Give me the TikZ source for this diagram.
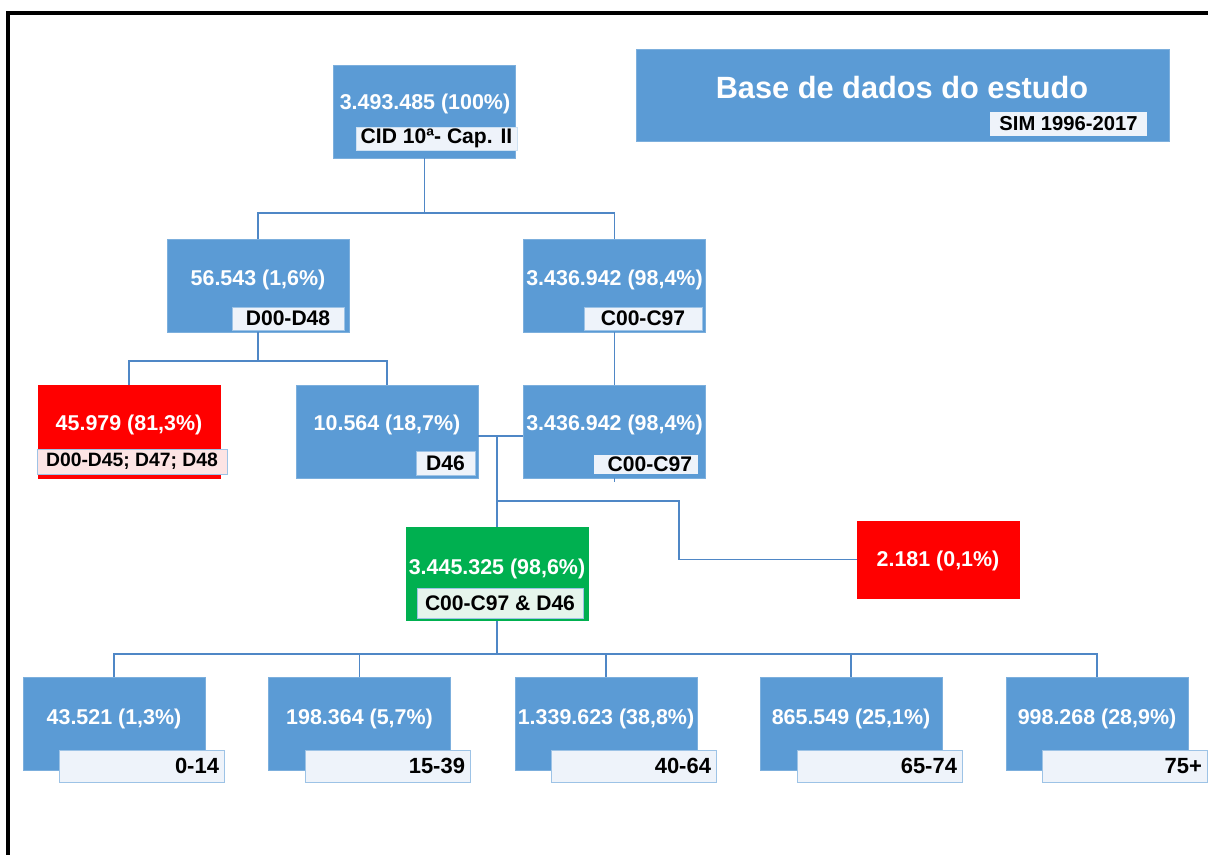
\documentclass[tikz,border=0pt]{standalone}
\usepackage{fontspec}
\setmainfont{Liberation Sans}
\definecolor{smBlue}{HTML}{5B9BD5}
\definecolor{smRed}{HTML}{FF0000}
\definecolor{smGreen}{HTML}{00B050}
\definecolor{smLine}{HTML}{4F87C6}
\definecolor{smTagLine}{HTML}{9DC3E6}
\definecolor{smTagBlue}{HTML}{EEF3FA}
\definecolor{smTagRed}{HTML}{FCE4E4}
\definecolor{smTagGreen}{HTML}{E6F5EC}
\usetikzlibrary{positioning}

\begin{document}
\begin{tikzpicture}[
  x=0.02cm,y=-0.02cm,
  bx/.style={fill=smBlue,draw=smBlue!80!white,line width=0.3pt,inner sep=0pt,
             minimum width=3.64cm,minimum height=1.86cm},
  num/.style={text=white,inner sep=0pt,font=\bfseries\fontsize{12.2}{14}\selectfont},
  tag/.style={fill=smTagBlue,draw=smTagLine,line width=0.5pt,inner sep=0pt,
              font=\bfseries\fontsize{11}{13}\selectfont},
  agetag/.style={tag,minimum height=0.64cm,inner xsep=0.1cm,text width=3.1cm,align=right,
                 font=\bfseries\fontsize{12.5}{14}\selectfont},
  conn/.style={draw=smLine,line width=0.6pt}
]
\useasboundingbox (0,0) rectangle (1208,855);
% frame
\draw[black,line width=2.2pt] (8,855) -- (8,13) -- (1208,13);
% title
\node[bx,minimum width=10.66cm,minimum height=1.84cm] (title) at (902.5,95) {};
\node[num,font=\bfseries\fontsize{17.5}{20}\selectfont] (titletxt) at (902,88) {Base de dados do estudo};
\node[tag,draw=none,minimum width=3.14cm,minimum height=0.48cm,font=\bfseries\fontsize{11.5}{13}\selectfont] (simtag) at (1068.5,124) {SIM 1996-2017};
% level 0
\node[bx] (top) at (424.5,111.5) {};
\node[num] (topnum) at (425,104) {3.493.485 (100\%)};
\node[tag,draw=smTagLine!50,minimum width=3.22cm,minimum height=0.46cm,font=\bfseries\fontsize{12}{14}\selectfont] (cidtag) at (436.5,138.5) {CID 10ª- Cap. II};
% level 1
\node[bx] (d48) at (258,285.5) {};
\node[num] (d48num) at (258,280) {56.543 (1,6\%)};
\node[tag,minimum width=2.24cm,minimum height=0.46cm,font=\bfseries\fontsize{12}{14}\selectfont] (d48tag) at (288,318.5) {D00-D48};
\node[bx] (c97) at (614.5,285.5) {};
\node[num] (c97num) at (614.5,280) {3.436.942 (98,4\%)};
\node[tag,minimum width=2.36cm,minimum height=0.46cm,font=\bfseries\fontsize{12}{14}\selectfont] (c97tag) at (643,318.5) {C00-C97};
% level 2
\node[bx,fill=smRed,draw=smRed] (red1) at (129,431.5) {};
\node[num] (red1num) at (129,425) {45.979 (81,3\%)};
\node[tag,fill=smTagRed,minimum width=3.8cm,minimum height=0.5cm] (red1tag) at (132,461.5) {D00-D45; D47; D48};
\node[bx] (d46) at (387,431.5) {};
\node[num] (d46num) at (387,425) {10.564 (18,7\%)};
\node[tag,minimum width=1.18cm,minimum height=0.48cm,font=\bfseries\fontsize{12}{14}\selectfont] (d46tag) at (445.5,463) {D46};
\node[bx] (c97b) at (614.5,431.5) {};
\node[num] (c97bnum) at (614.5,425) {3.436.942 (98,4\%)};
\node[tag,draw=none,minimum height=0.38cm,inner xsep=0.12cm,text width=1.84cm,align=right,font=\bfseries\fontsize{12}{14}\selectfont] (c97btag) at (646,464) {C00-C97};
% level 3
\node[bx,fill=smGreen,draw=smGreen] (green) at (497,574) {};
\node[num] (greennum) at (497,569) {3.445.325 (98,6\%)};
\node[tag,fill=smTagGreen,minimum width=3.32cm,minimum height=0.6cm,font=\bfseries\fontsize{12}{14}\selectfont] (greentag) at (500,603) {C00-C97 \& D46};
\node[bx,fill=smRed,draw=smRed,minimum width=3.24cm,minimum height=1.54cm] (red2) at (938,559.5) {};
\node[num] (red2num) at (938,561) {2.181 (0,1\%)};
% age groups
\node[bx] (b1) at (114,724) {};
\node[num] (b1num) at (114,719) {43.521 (1,3\%)};
\node[agetag] (b1tag) at (141.5,766) {0-14};
\node[bx] (b2) at (359.5,724) {};
\node[num] (b2num) at (359.5,719) {198.364 (5,7\%)};
\node[agetag] (b2tag) at (387.5,766) {15-39};
\node[bx] (b3) at (606,724) {};
\node[num] (b3num) at (606,719) {1.339.623 (38,8\%)};
\node[agetag] (b3tag) at (633.5,766) {40-64};
\node[bx] (b4) at (851,724) {};
\node[num] (b4num) at (851,719) {865.549 (25,1\%)};
\node[agetag] (b4tag) at (879.5,766) {65-74};
\node[bx] (b5) at (1097,724) {};
\node[num] (b5num) at (1097,719) {998.268 (28,9\%)};
\node[agetag] (b5tag) at (1124.5,766) {75+};
% connectors
\coordinate (s1) at (424.5,213);
\draw[conn] (top.south) -- (s1);
\draw[conn] (d48.north) |- (s1) -| (c97.north);
\coordinate (s2) at (258,361);
\draw[conn] (d48.south) -- (s2);
\draw[conn] (red1.north) |- (s2) -| (d46.north);
\draw[conn] (c97.south) -- (c97b.north);
\coordinate (s3) at (614.5,482);
\draw[conn] (c97b.south) -- (s3);
\coordinate (s4) at (497,436);
\draw[conn] (d46.east |- s4) -- (c97b.west |- s4);
\draw[conn] (s4) -- (green.north);
\coordinate (s5) at (497,501);
\coordinate (s6) at (679,559.5);
\draw[conn] (s5) -| (s6) -- (red2.west);
\coordinate (s7) at (497,654);
\draw[conn] (green.south) -- (s7);
\draw[conn] (b1.north) |- (s7) -| (b5.north);
\draw[conn] (b2.north) -- (b2.north |- s7);
\draw[conn] (b3.north) -- (b3.north |- s7);
\draw[conn] (b4.north) -- (b4.north |- s7);
\end{tikzpicture}
\end{document}
